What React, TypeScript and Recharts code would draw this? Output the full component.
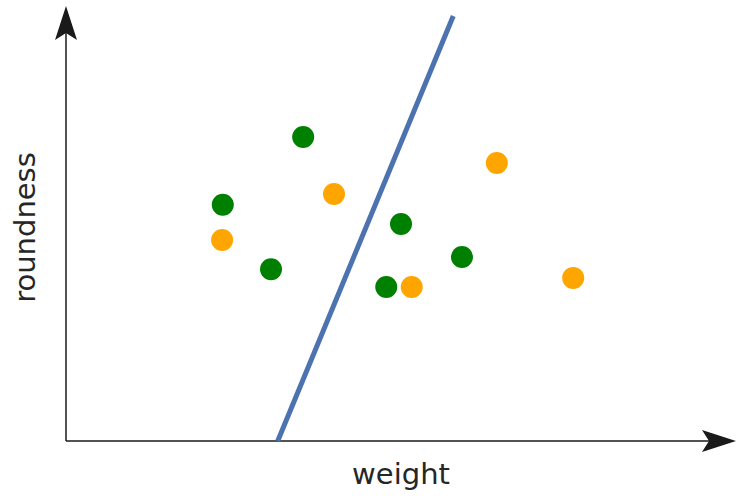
import React from 'react'
import { ScatterChart, Scatter, XAxis, YAxis, ReferenceLine } from 'recharts'

// point positions in "weight" / "roundness" units (0..10 on both axes)
const greenPoints = [
  { x: 3.54, y: 6.99 },
  { x: 2.34, y: 5.43 },
  { x: 5.0, y: 4.99 },
  { x: 3.06, y: 3.95 },
  { x: 5.91, y: 4.23 },
  { x: 4.78, y: 3.54 }
]

const orangePoints = [
  { x: 6.43, y: 6.39 },
  { x: 4.0, y: 5.68 },
  { x: 2.33, y: 4.62 },
  { x: 5.16, y: 3.54 },
  { x: 7.57, y: 3.75 }
]

const boundary = [
  { x: 3.16, y: 0 },
  { x: 5.78, y: 9.77 }
]

const xAxisSegment = [
  { x: 0, y: 0 },
  { x: 10, y: 0 }
]
const yAxisSegment = [
  { x: 0, y: 0 },
  { x: 0, y: 10 }
]

const xLabel = 'weight'
const yLabel = 'roundness'

const FONT = '"DejaVu Sans", sans-serif'
const TEXT_COLOR = '#262626'
const AXIS_COLOR = '#1a1a1a'

// axis line with a notched arrow head at its end
const ArrowAxis = (props: any) => {
  const { x1, y1, x2, y2 } = props
  const a = Math.atan2(y2 - y1, x2 - x1)
  const pt = (back: number, side: number) => {
    const px = x2 - back * Math.cos(a) - side * Math.sin(a)
    const py = y2 - back * Math.sin(a) + side * Math.cos(a)
    return [px, py]
  }
  const w1 = pt(34, 11)
  const notch = pt(27, 0)
  const w2 = pt(34, -11)
  return (
    <g>
      <line x1={x1} y1={y1} x2={notch[0]} y2={notch[1]} stroke={AXIS_COLOR} strokeWidth={1.5} />
      <polygon
        points={`${x2},${y2} ${w1[0]},${w1[1]} ${notch[0]},${notch[1]} ${w2[0]},${w2[1]}`}
        fill={AXIS_COLOR}
      />
    </g>
  )
}

const dot = (color: string) => (props: any) =>
  <circle cx={props.cx} cy={props.cy} r={11} fill={color} />

const XLabel = (props: any) => {
  const { x, width } = props.viewBox
  return (
    <text x={x + width / 2} y={484} textAnchor="middle" fontFamily={FONT} fontSize={29} fill={TEXT_COLOR}>
      {xLabel}
    </text>
  )
}

const YLabel = (props: any) => {
  const { y, height } = props.viewBox
  const cy = y + height / 2 + 4
  return (
    <text
      x={35}
      y={cy}
      transform={`rotate(-90, 35, ${cy})`}
      textAnchor="middle"
      fontFamily={FONT}
      fontSize={29}
      fill={TEXT_COLOR}
    >
      {yLabel}
    </text>
  )
}

export default function App() {
  return (
    <div style={{ position: 'absolute', left: 0, top: 0, background: '#fff' }}>
      <ScatterChart width={742} height={498} margin={{ top: 6, right: 6, bottom: 0, left: 0 }}>
        <XAxis
          type="number"
          dataKey="x"
          domain={[0, 10]}
          height={57}
          tick={false}
          tickLine={false}
          axisLine={false}
          label={<XLabel />}
        />
        <YAxis
          type="number"
          dataKey="y"
          domain={[0, 10]}
          width={66}
          tick={false}
          tickLine={false}
          axisLine={false}
          label={<YLabel />}
        />
        <ReferenceLine
          segment={xAxisSegment}
          ifOverflow="visible"
          shape={ArrowAxis}
        />
        <ReferenceLine
          segment={yAxisSegment}
          ifOverflow="visible"
          shape={ArrowAxis}
        />
        <Scatter
          data={boundary}
          fill="#4c72b0"
          line={{ stroke: '#4c72b0', strokeWidth: 5 }}
          shape={() => <g />}
          isAnimationActive={false}
        />
        <Scatter data={greenPoints} fill="#008000" shape={dot('#008000')} isAnimationActive={false} />
        <Scatter data={orangePoints} fill="#ffa500" shape={dot('#ffa500')} isAnimationActive={false} />
      </ScatterChart>
    </div>
  )
}
